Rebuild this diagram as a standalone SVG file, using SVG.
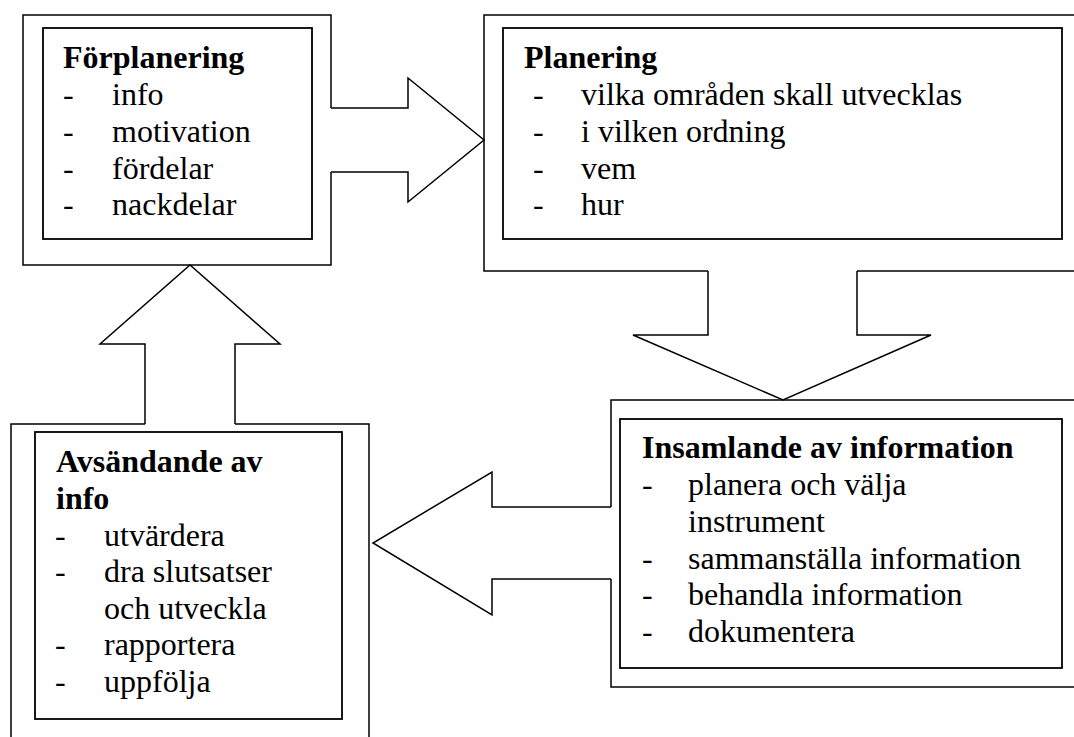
<svg xmlns="http://www.w3.org/2000/svg" width="1074" height="737" viewBox="0 0 1074 737">
<style>
.outer{fill:#fff;stroke:#000;stroke-width:1.5}
.inner{fill:#fff;stroke:#000;stroke-width:1.8}
.t{font-family:"Liberation Serif","Times New Roman",serif;font-size:32px;fill:#000}
.h{font-weight:bold}
.af{fill:#fff;stroke:none}
.al{fill:none;stroke:#000;stroke-width:1.5;stroke-linejoin:miter}
</style>
<rect width="1074" height="737" fill="#fff"/>
<g id="forplanering">
<rect class="outer" x="23" y="15" width="308" height="250"/>
<rect class="inner" x="43" y="28" width="269" height="211"/>
<text class="t h" x="63" y="68">Förplanering</text>
<text class="t" x="63" y="105">-</text><text class="t" x="112" y="105">info</text>
<text class="t" x="63" y="142">-</text><text class="t" x="112" y="142">motivation</text>
<text class="t" x="63" y="178.5">-</text><text class="t" x="112" y="178.5">fördelar</text>
<text class="t" x="63" y="215">-</text><text class="t" x="112" y="215">nackdelar</text>
</g>
<g id="planering">
<rect class="outer" x="484" y="15" width="600" height="256"/>
<rect class="inner" x="503" y="28" width="559" height="211"/>
<text class="t h" x="524" y="68">Planering</text>
<text class="t" x="533" y="105">-</text><text class="t" x="581" y="105">vilka områden skall utvecklas</text>
<text class="t" x="533" y="142">-</text><text class="t" x="581" y="142">i vilken ordning</text>
<text class="t" x="533" y="178.5">-</text><text class="t" x="581" y="178.5">vem</text>
<text class="t" x="533" y="215">-</text><text class="t" x="581" y="215">hur</text>
</g>
<g id="insamlande">
<rect class="outer" x="611" y="400" width="480" height="287"/>
<rect class="inner" x="620" y="419" width="442" height="249"/>
<text class="t h" x="642" y="458">Insamlande av information</text>
<text class="t" x="642" y="494.5">-</text><text class="t" x="688" y="494.5">planera och välja</text>
<text class="t" x="688" y="531.5">instrument</text>
<text class="t" x="642" y="568.5">-</text><text class="t" x="688" y="568.5">sammanställa information</text>
<text class="t" x="642" y="605">-</text><text class="t" x="688" y="605">behandla information</text>
<text class="t" x="642" y="642">-</text><text class="t" x="688" y="642">dokumentera</text>
</g>
<g id="avsandande">
<rect class="outer" x="11" y="424" width="358" height="330"/>
<rect class="inner" x="35" y="432" width="307" height="287"/>
<text class="t h" x="56" y="472">Avsändande av</text>
<text class="t h" x="56" y="508.5">info</text>
<text class="t" x="55" y="545.5">-</text><text class="t" x="104" y="545.5">utvärdera</text>
<text class="t" x="55" y="582">-</text><text class="t" x="104" y="582">dra slutsatser</text>
<text class="t" x="104" y="618.5">och utveckla</text>
<text class="t" x="55" y="655">-</text><text class="t" x="104" y="655">rapportera</text>
<text class="t" x="55" y="692">-</text><text class="t" x="104" y="692">uppfölja</text>
</g>
<g id="connectors">
<polygon class="af" points="329,108 408,108 408,78 484,140 408,202 408,172 329,172"/>
<polyline class="al" points="331,108 408,108 408,78 484,140 408,202 408,172 331,172"/>
<polygon class="af" points="708,269 708,335 633,335 783,400 931,335 857,335 857,269"/>
<polyline class="al" points="708,271 708,335 633,335 783,400 931,335 857,335 857,271"/>
<polygon class="af" points="145,426 145,344 100,344 190,265 280,344 235,344 235,426"/>
<polyline class="al" points="145,424 145,344 100,344 190,265 280,344 235,344 235,424"/>
<polygon class="af" points="613,507 492,507 492,472 373,543 492,615 492,579 613,579"/>
<polyline class="al" points="611,507 492,507 492,472 373,543 492,615 492,579 611,579"/>
</g>
</svg>
